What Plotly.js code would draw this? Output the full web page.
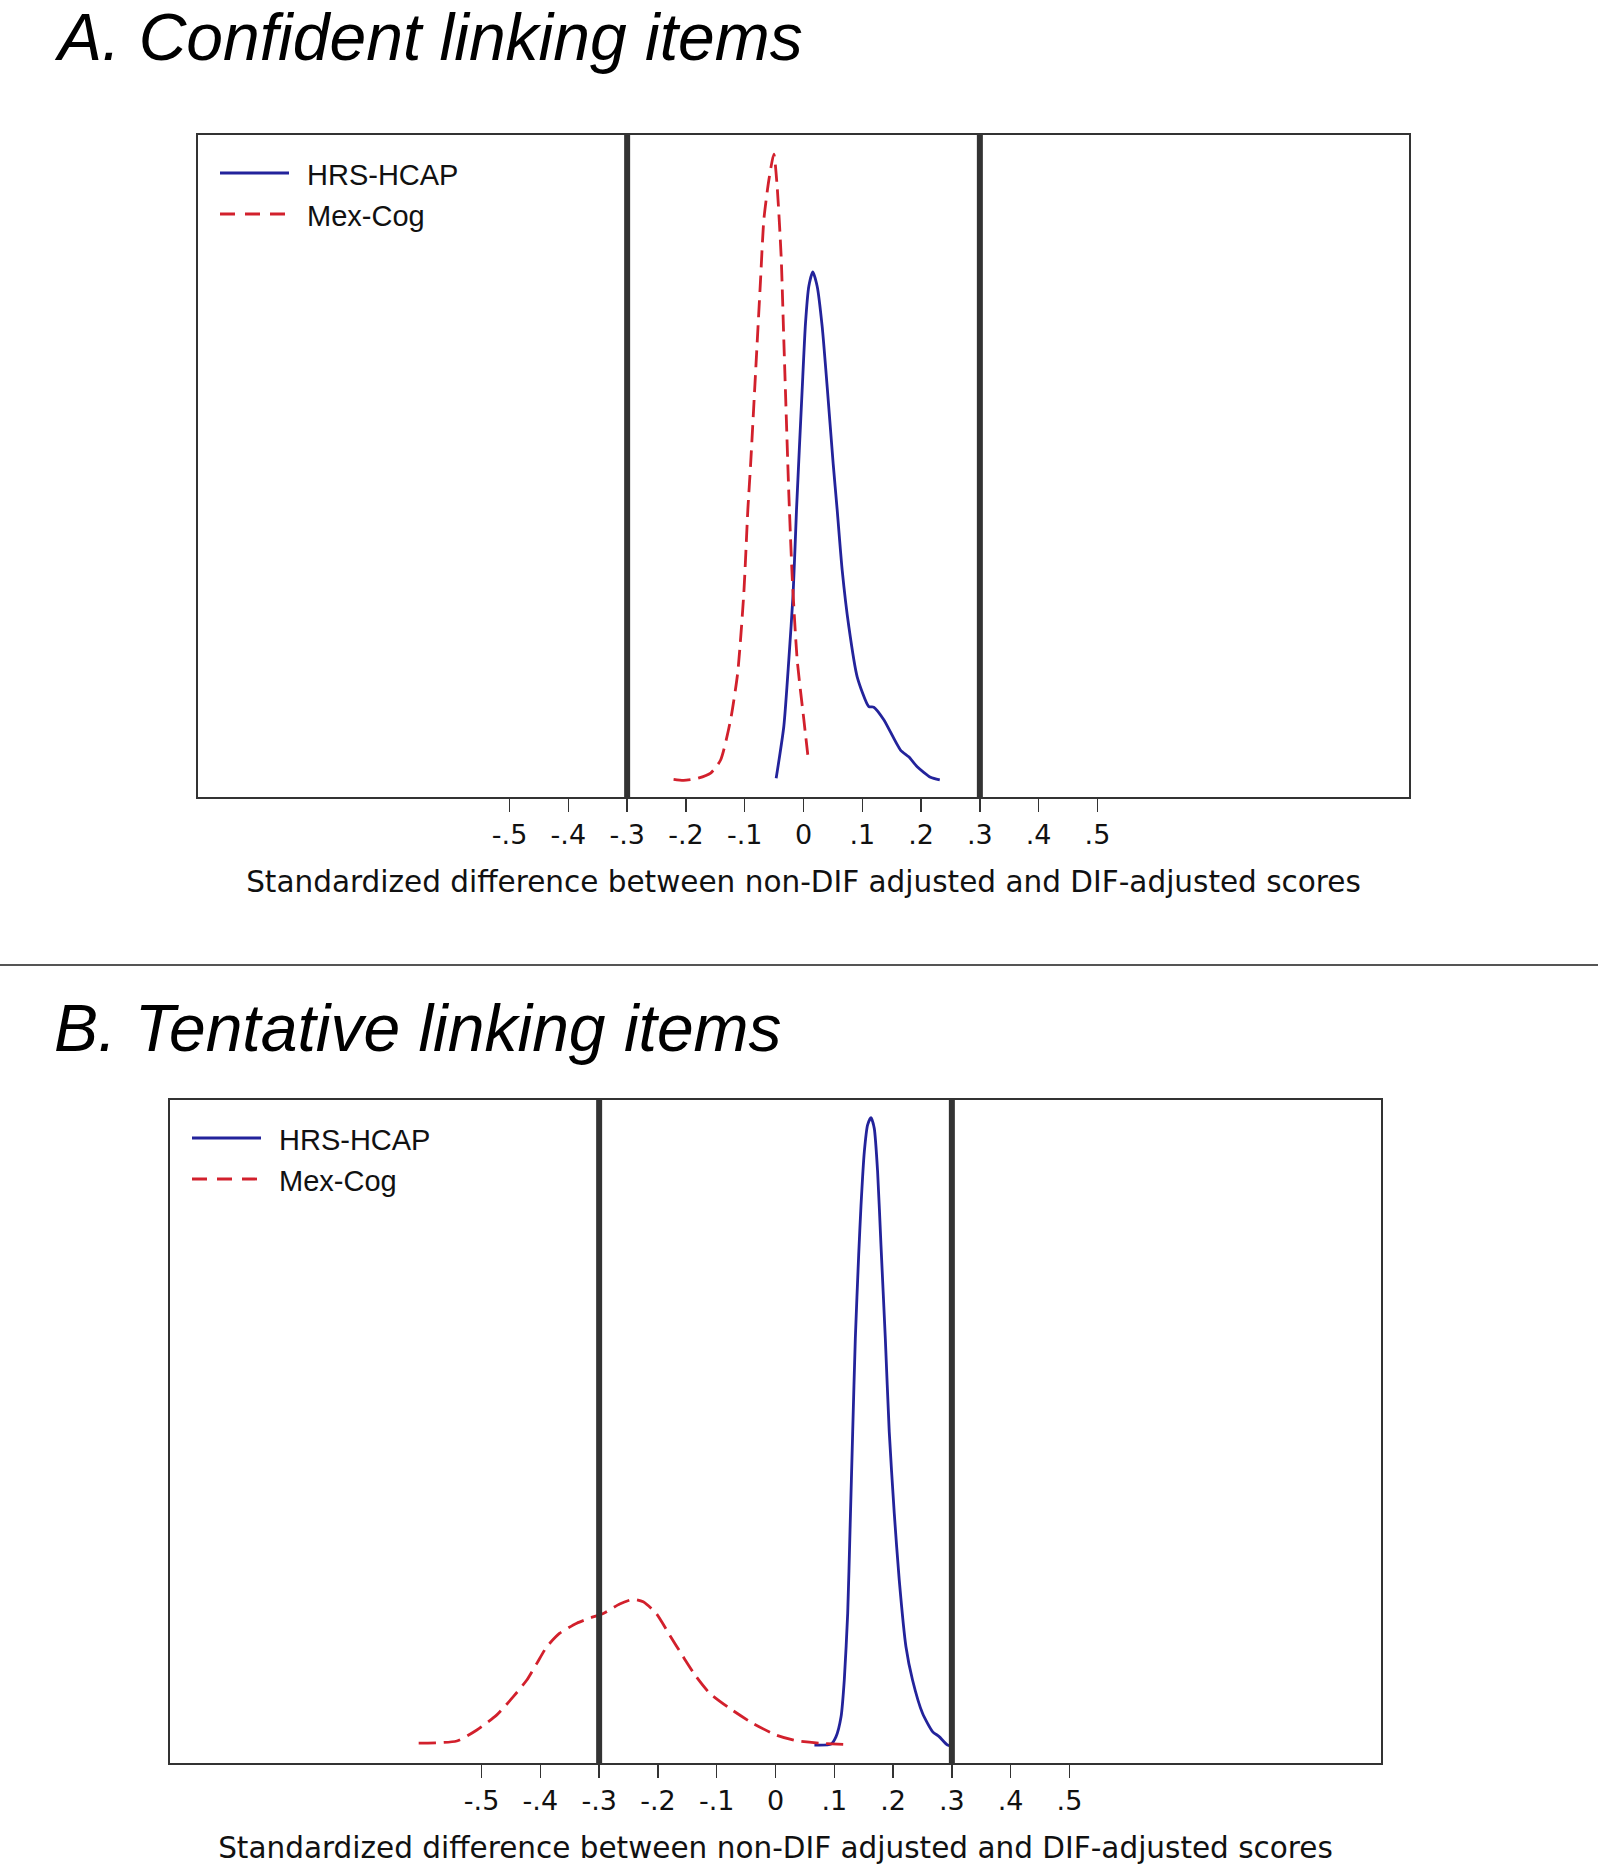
<!DOCTYPE html>
<html>
<head>
<meta charset="utf-8">
<script src="https://cdn.plot.ly/plotly-3.0.1.min.js"></script>
<style>
  html, body { margin: 0; padding: 0; background: #fff; }
  #graph { width: 1598px; height: 1868px; }
</style>
</head>
<body>
<div id="graph"></div>
<script>
// kernel density curves (x = standardized difference, y = density)
var hrsA_x = [-0.0465, -0.0335, -0.025, -0.0176, -0.0119, -0.0023, 0.0034, 0.009, 0.0158, 0.0233, 0.0318, 0.0403,
              0.0505, 0.0573, 0.0658, 0.0771, 0.0913, 0.1111, 0.1196, 0.1366, 0.165, 0.179, 0.1934, 0.216, 0.2318];
var hrsA_y = [0.07, 1.06, 2.33, 3.61, 5.20, 7.49, 8.77, 9.47, 9.75, 9.47, 8.70, 7.55,
              6.08, 5.20, 4.05, 2.97, 2.01, 1.44, 1.43, 1.19, 0.61, 0.48, 0.29, 0.09, 0.04];

var mexA_x = [-0.221, -0.204, -0.180, -0.158, -0.141, -0.124, -0.112, -0.1015, -0.0947, -0.090, -0.0816, -0.0731,
              -0.0675, -0.059, -0.0505, -0.0448, -0.038, -0.0335, -0.025, -0.0192, -0.0107, 0.0006, 0.0073];
var mexA_y = [0.05, 0.03, 0.07, 0.17, 0.42, 1.19, 2.08, 3.61, 5.20, 6.06, 7.81, 9.59,
              10.74, 11.50, 12.0, 11.38, 10.04, 8.45, 5.52, 3.92, 2.33, 1.19, 0.52];

var hrsB_x = [0.0662, 0.0945, 0.103, 0.1115, 0.117, 0.1228, 0.1268, 0.1313, 0.1358, 0.1415, 0.1455, 0.1511, 0.1567, 0.1625,
              0.168, 0.1737, 0.1794, 0.1868, 0.1935, 0.202, 0.2105, 0.2219, 0.2331, 0.2501, 0.2671, 0.2784, 0.2926, 0.302];
var hrsB_y = [0.03, 0.06, 0.30, 0.93, 2.10, 4.22, 6.88, 10.0, 12.98, 15.63, 17.22, 18.92, 19.77, 20.0,
              19.66, 18.28, 15.95, 12.98, 10.0, 7.41, 5.28, 3.16, 2.10, 1.04, 0.46, 0.30, 0.03, 0.0];

var mexB_x = [-0.607, -0.542, -0.508, -0.474, -0.446, -0.423, -0.406, -0.389, -0.367, -0.338, -0.316, -0.293, -0.265,
              -0.242, -0.225, -0.203, -0.180, -0.157, -0.135, -0.112, -0.078, -0.0385, 0.001, 0.035, 0.075, 0.117];
var mexB_y = [0.09, 0.16, 0.51, 0.99, 1.57, 2.10, 2.63, 3.16, 3.59, 3.91, 4.07, 4.22, 4.52,
              4.67, 4.59, 4.22, 3.53, 2.84, 2.21, 1.68, 1.20, 0.72, 0.35, 0.17, 0.09, 0.05];

var seriesNames = ['HRS-HCAP', 'Mex-Cog'];
var cutoffs = [-0.3, 0.3];
var tickVals = [-0.5, -0.4, -0.3, -0.2, -0.1, 0, 0.1, 0.2, 0.3, 0.4, 0.5];
var tickText = ['-.5', '-.4', '-.3', '-.2', '-.1', '0', '.1', '.2', '.3', '.4', '.5'];
var panelTitles = ['A. Confident linking items', 'B. Tentative linking items'];
var xTitle = 'Standardized difference between non-DIF adjusted and DIF-adjusted scores';

var W = 1598, H = 1868;
function px(x) { return x / W; }
function py(y) { return 1 - y / H; }

var BLUE = '#23239b', RED = '#d2202c', DARK = '#333333';
var SANS = 'Liberation Sans, Arial, sans-serif';
var WIDE = 'DejaVu Sans, sans-serif';
var DASH = '17px,8px';

function curve(x, y, name, xa, ya, color, dash) {
  return {
    x: x, y: y, name: name, xaxis: xa, yaxis: ya, mode: 'lines', showlegend: false,
    line: { color: color, width: 2.8, dash: dash, shape: 'spline', smoothing: 0.6 },
    hoverinfo: 'skip'
  };
}

var data = [
  curve(hrsA_x, hrsA_y, seriesNames[0], 'x', 'y', BLUE, 'solid'),
  curve(mexA_x, mexA_y, seriesNames[1], 'x', 'y', RED, DASH),
  curve(hrsB_x, hrsB_y, seriesNames[0], 'x2', 'y2', BLUE, 'solid'),
  curve(mexB_x, mexB_y, seriesNames[1], 'x2', 'y2', RED, DASH)
];

function xAxis(domain, anchor) {
  return {
    domain: domain, anchor: anchor, range: [-1.03, 1.03],
    showgrid: false, zeroline: false,
    showline: true, mirror: true, linecolor: DARK, linewidth: 2,
    tickvals: tickVals, ticktext: tickText,
    ticks: 'outside', ticklen: 13, tickwidth: 1.5, tickcolor: DARK,
    ticklabelstandoff: 0,
    tickfont: { family: WIDE, size: 27, color: '#111' },
    title: { text: xTitle, font: { family: WIDE, size: 29.5, color: '#111' }, standoff: 22 }
  };
}
function yAxis(domain, anchor, range) {
  return {
    domain: domain, anchor: anchor, range: range,
    showgrid: false, zeroline: false, showticklabels: false, ticks: '',
    showline: true, mirror: true, linecolor: DARK, linewidth: 2
  };
}

var shapes = [];
var annotations = [];

// reference lines at +/- .3
[['x', 'y'], ['x2', 'y2']].forEach(function (p) {
  cutoffs.forEach(function (c) {
    shapes.push({ type: 'line', xref: p[0], yref: p[1] + ' domain', x0: c, x1: c, y0: 0, y1: 1,
                  line: { color: DARK, width: 6 } });
  });
});

// separator between the two panels
shapes.push({ type: 'line', xref: 'paper', yref: 'paper', x0: 0, x1: 1, y0: py(965), y1: py(965),
              line: { color: '#555', width: 2 } });

// panel titles
[[52, 37], [52, 1028]].forEach(function (pos, i) {
  annotations.push({ xref: 'paper', yref: 'paper', x: px(pos[0]), y: py(pos[1]), xanchor: 'left', yanchor: 'middle',
                     text: panelTitles[i], showarrow: false,
                     font: { family: SANS, size: 66, style: 'italic', color: '#000' } });
});

// legends drawn inside each panel
function legend(lx0, lx1, tx, rows) {
  var colors = [BLUE, RED], dashes = ['solid', '15px,10px'];
  rows.forEach(function (ry, i) {
    shapes.push({ type: 'line', xref: 'paper', yref: 'paper', x0: px(lx0), x1: px(lx1), y0: py(ry), y1: py(ry),
                  line: { color: colors[i], width: 2.8, dash: dashes[i] } });
    annotations.push({ xref: 'paper', yref: 'paper', x: px(tx), y: py(ry + 2), xanchor: 'left', yanchor: 'middle',
                       text: seriesNames[i], showarrow: false,
                       font: { family: SANS, size: 29, color: '#111' } });
  });
}
legend(220, 289, 305, [173, 214]);
legend(192, 261, 277, [1138, 1179]);

var layout = {
  width: W, height: H,
  margin: { l: 0, r: 0, t: 0, b: 0 },
  paper_bgcolor: '#fff', plot_bgcolor: '#fff',
  showlegend: false,
  xaxis: xAxis([px(198), px(1409)], 'y'),
  yaxis: yAxis([py(797), py(135)], 'x', [-0.287, 12.364]),
  xaxis2: xAxis([px(170), px(1381)], 'y2'),
  yaxis2: yAxis([py(1763), py(1100)], 'x2', [-0.541, 20.563]),
  shapes: shapes,
  annotations: annotations
};

Plotly.newPlot('graph', data, layout, { displayModeBar: false, staticPlot: true });
</script>
</body>
</html>
